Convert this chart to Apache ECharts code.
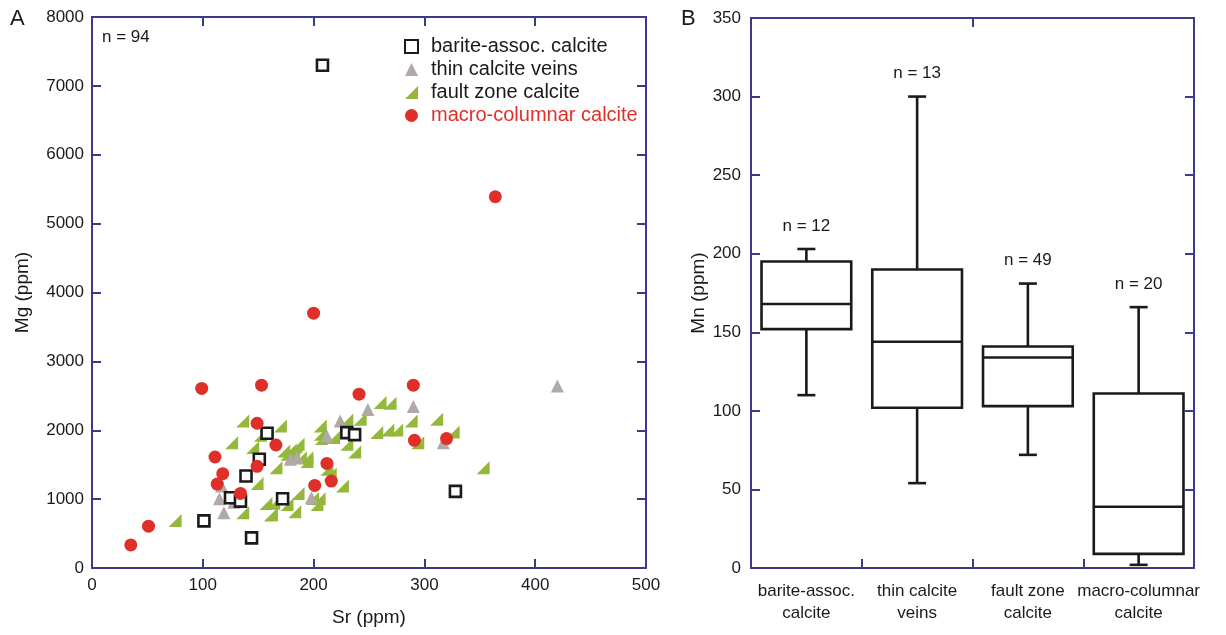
<!DOCTYPE html>
<html lang="en">
<head>
    <meta charset="UTF-8">
    <title>Sr-Mg and Mn in calcite</title>
    <style>
        * { margin: 0; padding: 0; }
        #chart-container { width: 1226px; height: 635px; background: #fff; }
    </style>
</head>
<body>
    <div id="chart-container"></div>
    <script src="https://cdn.jsdelivr.net/npm/echarts@6/dist/echarts.min.js"></script>
    <script>
        // panel A: Sr vs Mg, [Sr, Mg] in ppm
        var bariteCalcite = [
            [208, 7300], [158, 1956], [151, 1578], [139, 1335], [125, 1019], [134, 971],
            [172, 1005], [101, 684], [144, 437], [230, 1966], [237, 1937], [328, 1112]
        ];
        var thinVeins = [
            [420, 2641], [115, 1005], [128, 956], [119, 801], [117, 1189], [179, 1578],
            [185, 1600], [198, 1019], [212, 1917], [224, 2135], [249, 2300], [290, 2345],
            [317, 1820]
        ];
        var faultZone = [
            [136, 2136], [170, 2063], [126, 1820], [145, 1748], [152, 1927], [173, 1699],
            [179, 1714], [186, 1796], [182, 1650], [194, 1602], [166, 1456], [149, 1228],
            [136, 801], [157, 937], [162, 777], [176, 922], [183, 816], [186, 1083],
            [203, 922], [205, 1005], [226, 1189], [75, 689], [206, 2063], [206, 1942],
            [218, 1893], [230, 1796], [237, 1684], [230, 2150], [242, 2160], [260, 2403],
            [257, 1966], [212, 1432], [215, 1365], [269, 2393], [267, 2005], [275, 2005],
            [288, 2136], [311, 2160], [326, 1976], [294, 1820], [353, 1456], [164, 939],
            [194, 1545], [176, 1650], [184, 1760], [161, 770], [199, 1010], [188, 1600],
            [207, 1880]
        ];
        var macroColumnar = [
            [99, 2607], [153, 2655], [241, 2524], [149, 2102], [166, 1786], [111, 1612],
            [149, 1476], [118, 1369], [113, 1218], [134, 1083], [212, 1519], [201, 1199],
            [216, 1262], [51, 607], [35, 335], [290, 2655], [291, 1854], [320, 1879],
            [200, 3700], [364, 5390]
        ];

        // panel B: Mn box plots
        var boxCategories = ['barite-assoc.\ncalcite', 'thin calcite\nveins', 'fault zone\ncalcite', 'macro-columnar\ncalcite'];
        var boxLow = [110, 54, 72, 2];
        var boxQ1 = [152, 102, 103, 9];
        var boxMedian = [168, 144, 134, 39];
        var boxQ3 = [195, 190, 141, 111];
        var boxHigh = [203, 300, 181, 166];
        var boxCount = [12, 13, 49, 20];

        var axisBlue = '#3d3a8e';
        var textColor = '#1a1a1a';
        var fontFam = '"Liberation Sans", Arial, sans-serif';

        var boxData = boxCategories.map(function (c, i) {
            return [i, boxLow[i], boxQ1[i], boxMedian[i], boxQ3[i], boxHigh[i], boxCount[i]];
        });

        function frameAxis(extra) {
            var base = {
                axisLine: { show: true, onZero: false, lineStyle: { color: axisBlue, width: 2 } },
                axisTick: { show: true, inside: true, length: 9, lineStyle: { color: axisBlue, width: 2 } },
                axisLabel: { show: false },
                splitLine: { show: false }
            };
            return Object.assign(base, extra);
        }

        var tickLabel = {
            show: true, color: textColor, fontSize: 17, fontFamily: fontFam,
            formatter: function (v) { return String(v); }
        };

        var dom = document.getElementById('chart-container');
        var myChart = echarts.init(dom, null, { renderer: 'canvas' });

        var option = {
            animation: false,
            textStyle: { fontFamily: fontFam },
            grid: [
                { left: 92, top: 17, width: 554, height: 551 },
                { left: 751, top: 18, width: 443, height: 550 }
            ],
            xAxis: [
                frameAxis({
                    gridIndex: 0, type: 'value', min: 0, max: 500, interval: 100, position: 'bottom',
                    axisLabel: Object.assign({}, tickLabel, { margin: 9 }),
                    name: 'Sr (ppm)', nameLocation: 'middle', nameGap: 40,
                    nameTextStyle: { color: textColor, fontSize: 19, fontFamily: fontFam }
                }),
                frameAxis({ gridIndex: 0, type: 'value', min: 0, max: 500, interval: 100, position: 'top' }),
                frameAxis({
                    gridIndex: 1, type: 'category', data: boxCategories, position: 'bottom',
                    axisLabel: { show: true, color: textColor, fontSize: 17, fontFamily: fontFam,
                                 margin: 12, lineHeight: 22, interval: 0 }
                }),
                frameAxis({
                    gridIndex: 1, type: 'category', data: boxCategories, position: 'top'
                })
            ],
            yAxis: [
                frameAxis({
                    gridIndex: 0, type: 'value', min: 0, max: 8000, interval: 1000, position: 'left',
                    axisLabel: Object.assign({}, tickLabel, { margin: 8 }),
                    name: 'Mg (ppm)', nameLocation: 'middle', nameGap: 60, nameRotate: 90,
                    nameTextStyle: { color: textColor, fontSize: 19, fontFamily: fontFam }
                }),
                frameAxis({ gridIndex: 0, type: 'value', min: 0, max: 8000, interval: 1000, position: 'right' }),
                frameAxis({
                    gridIndex: 1, type: 'value', min: 0, max: 350, interval: 50, position: 'left',
                    axisLabel: Object.assign({}, tickLabel, { margin: 10 }),
                    name: 'Mn (ppm)', nameLocation: 'middle', nameGap: 42, nameRotate: 90,
                    nameTextStyle: { color: textColor, fontSize: 19, fontFamily: fontFam }
                }),
                frameAxis({ gridIndex: 1, type: 'value', min: 0, max: 350, interval: 50, position: 'right' })
            ],
            legend: {
                orient: 'vertical',
                left: 399,
                top: 31,
                itemWidth: 13,
                itemHeight: 13,
                itemGap: 2,
                textStyle: { fontSize: 20, lineHeight: 21, color: textColor, fontFamily: fontFam, padding: [0, 0, 0, 8] },
                data: [
                    { name: 'barite-assoc. calcite' },
                    { name: 'thin calcite veins' },
                    { name: 'fault zone calcite' },
                    { name: 'macro-columnar calcite', textStyle: { color: '#e0302a' } }
                ]
            },
            graphic: [
                { type: 'text', left: 10, top: 8, style: { text: 'A', fontSize: 22, fill: textColor, fontFamily: fontFam } },
                { type: 'text', left: 681, top: 8, style: { text: 'B', fontSize: 22, fill: textColor, fontFamily: fontFam } },
                { type: 'text', left: 102, top: 29, style: { text: 'n = 94', fontSize: 17, fill: textColor, fontFamily: fontFam } }
            ],
            series: [
                {
                    name: 'fault zone calcite', type: 'scatter', xAxisIndex: 0, yAxisIndex: 0,
                    symbol: 'path://M0,10 L10,10 L10,0 Z', symbolSize: 13,
                    itemStyle: { color: '#93b83a', opacity: 1 },
                    data: faultZone, z: 2
                },
                {
                    name: 'thin calcite veins', type: 'scatter', xAxisIndex: 0, yAxisIndex: 0,
                    symbol: 'triangle', symbolSize: 13,
                    itemStyle: { color: '#b0a9a6', opacity: 1 },
                    data: thinVeins, z: 3
                },
                {
                    name: 'barite-assoc. calcite', type: 'scatter', xAxisIndex: 0, yAxisIndex: 0,
                    symbol: 'rect', symbolSize: 11,
                    itemStyle: { color: '#ffffff', borderColor: '#1a1a1a', borderWidth: 2.6, opacity: 1 },
                    data: bariteCalcite, z: 4
                },
                {
                    name: 'macro-columnar calcite', type: 'scatter', xAxisIndex: 0, yAxisIndex: 0,
                    symbol: 'circle', symbolSize: 13,
                    itemStyle: { color: '#de3029', opacity: 1 },
                    data: macroColumnar, z: 5
                },
                {
                    name: 'Mn', type: 'custom', xAxisIndex: 2, yAxisIndex: 2,
                    data: boxData,
                    encode: { x: 0, y: [1, 2, 3, 4, 5] },
                    renderItem: function (params, api) {
                        var i = api.value(0);
                        var xc = api.coord([i, 0])[0];
                        var bw = api.size([1, 0])[0] * 0.81;
                        var yLow = api.coord([i, api.value(1)])[1];
                        var yQ1 = api.coord([i, api.value(2)])[1];
                        var yMed = api.coord([i, api.value(3)])[1];
                        var yQ3 = api.coord([i, api.value(4)])[1];
                        var yHigh = api.coord([i, api.value(5)])[1];
                        var cap = 9;
                        var ls = { stroke: '#1a1a1a', lineWidth: 2.6, fill: null };
                        return {
                            type: 'group',
                            children: [
                                { type: 'line', shape: { x1: xc, y1: yQ3, x2: xc, y2: yHigh }, style: ls },
                                { type: 'line', shape: { x1: xc, y1: yQ1, x2: xc, y2: yLow }, style: ls },
                                { type: 'line', shape: { x1: xc - cap, y1: yHigh, x2: xc + cap, y2: yHigh }, style: ls },
                                { type: 'line', shape: { x1: xc - cap, y1: yLow, x2: xc + cap, y2: yLow }, style: ls },
                                { type: 'rect', shape: { x: xc - bw / 2, y: yQ3, width: bw, height: yQ1 - yQ3 },
                                  style: { stroke: '#1a1a1a', lineWidth: 2.6, fill: '#fff' } },
                                { type: 'line', shape: { x1: xc - bw / 2, y1: yMed, x2: xc + bw / 2, y2: yMed }, style: ls },
                                { type: 'text', x: xc, y: yHigh - 23,
                                  style: { text: 'n = ' + api.value(6), fontSize: 17, fill: textColor, fontFamily: fontFam,
                                           align: 'center', verticalAlign: 'middle' } }
                            ]
                        };
                    }
                }
            ]
        };

        myChart.setOption(option);
        window.addEventListener('resize', myChart.resize);
    </script>
</body>
</html>
